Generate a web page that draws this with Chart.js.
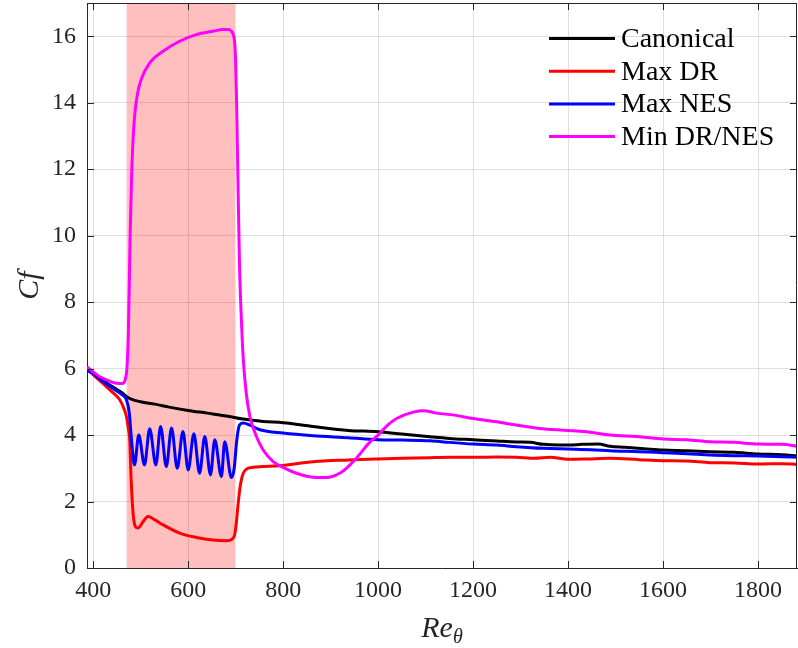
<!DOCTYPE html>
<html>
<head>
<meta charset="utf-8">
<script src="https://cdn.jsdelivr.net/npm/chart.js@4/dist/chart.umd.min.js"></script>
<style>
  html, body { margin: 0; padding: 0; background: #fff; }
  #wrap { width: 798px; height: 648px; }
</style>
</head>
<body>
<div id="wrap"><canvas id="chart" width="798" height="648"></canvas></div>
<script>
// Tick values
const xTicks = [400, 600, 800, 1000, 1200, 1400, 1600, 1800];
const yTicks = [0, 2, 4, 6, 8, 10, 12, 14, 16];

// Shaded control region (Re_theta range)
const shadeRange = [470, 700];

// Canonical
const canonicalX = [387, 400, 420, 440, 460, 470, 480, 500, 530, 560, 600, 640, 687, 716, 758, 800, 863, 937, 1000, 1050, 1109, 1150, 1200, 1250, 1291, 1320, 1348, 1380, 1400, 1430, 1464, 1488, 1520, 1560, 1600, 1650, 1699, 1750, 1800, 1850, 1882];
const canonicalCf = [6.02, 5.87, 5.66, 5.46, 5.28, 5.16, 5.08, 5.0, 4.93, 4.84, 4.74, 4.66, 4.56, 4.48, 4.41, 4.37, 4.26, 4.14, 4.1, 4.03, 3.95, 3.9, 3.86, 3.82, 3.79, 3.78, 3.72, 3.7, 3.7, 3.72, 3.73, 3.66, 3.63, 3.59, 3.55, 3.53, 3.5, 3.48, 3.43, 3.41, 3.37];

// Max DR
const maxDrX = [387, 400, 420, 440, 456, 466, 470, 474, 477, 480, 484, 489, 494, 505, 515, 530, 547, 582, 617, 652, 680, 694, 698, 701, 705, 709, 712, 716, 722, 737, 793, 863, 937, 1000, 1050, 1109, 1150, 1200, 1250, 1291, 1330, 1362, 1400, 1440, 1488, 1550, 1600, 1650, 1699, 1750, 1800, 1850, 1882];
const maxDrCf = [6.0, 5.82, 5.56, 5.3, 5.06, 4.75, 4.56, 4.2, 3.86, 2.65, 1.65, 1.24, 1.2, 1.39, 1.55, 1.45, 1.3, 1.05, 0.92, 0.84, 0.82, 0.89, 1.0, 1.3, 1.9, 2.4, 2.65, 2.85, 2.97, 3.03, 3.08, 3.2, 3.25, 3.28, 3.3, 3.32, 3.33, 3.33, 3.34, 3.33, 3.3, 3.33, 3.27, 3.28, 3.3, 3.26, 3.23, 3.22, 3.17, 3.16, 3.13, 3.14, 3.12];

// Max NES
const maxNesX = [387, 400, 420, 440, 460, 470, 476, 481, 487, 496, 508, 519, 532, 542, 554, 565, 577, 589, 600, 612, 624, 635, 647, 656, 670, 677, 691, 697, 702, 708, 716, 730, 751, 800, 863, 937, 1000, 1050, 1109, 1150, 1200, 1250, 1291, 1348, 1400, 1450, 1488, 1550, 1600, 1650, 1699, 1750, 1800, 1850, 1882];
const maxNesCf = [5.95, 5.85, 5.62, 5.42, 5.22, 5.06, 4.67, 3.8, 3.1, 4.0, 3.1, 4.19, 3.1, 4.26, 3.05, 4.21, 3.0, 4.11, 2.95, 4.04, 2.85, 3.96, 2.8, 3.86, 2.75, 3.8, 2.72, 3.0, 3.8, 4.3, 4.36, 4.3, 4.16, 4.06, 3.98, 3.92, 3.86, 3.85, 3.83, 3.78, 3.73, 3.7, 3.65, 3.6, 3.58, 3.56, 3.53, 3.5, 3.47, 3.44, 3.4, 3.38, 3.37, 3.35, 3.33];

// Min DR/NES
const minDrNesX = [387, 400, 413, 430, 442, 455, 463, 468, 471, 474, 476, 478, 481, 484, 488, 493, 501, 519, 547, 582, 617, 652, 673, 685, 691, 695, 698, 700, 702, 705, 708, 712, 716, 722, 730, 744, 758, 779, 800, 828, 863, 891, 919, 937, 960, 980, 1000, 1020, 1039, 1074, 1095, 1123, 1160, 1200, 1250, 1291, 1340, 1400, 1450, 1488, 1550, 1600, 1650, 1699, 1750, 1800, 1850, 1882];
const minDrNesCf = [6.05, 5.9, 5.76, 5.65, 5.58, 5.55, 5.56, 5.7, 6.0, 7.0, 8.5, 10.1, 11.8, 12.9, 13.7, 14.25, 14.7, 15.2, 15.55, 15.85, 16.05, 16.15, 16.2, 16.2, 16.15, 16.05, 15.8, 15.2, 14.0, 11.5, 9.2, 7.5, 6.3, 5.3, 4.56, 3.95, 3.55, 3.2, 3.03, 2.85, 2.73, 2.72, 2.85, 3.05, 3.4, 3.75, 4.0, 4.3, 4.5, 4.69, 4.73, 4.66, 4.6, 4.5, 4.4, 4.3, 4.2, 4.14, 4.08, 4.0, 3.95, 3.88, 3.86, 3.8, 3.78, 3.73, 3.72, 3.67];

const FONT = '"Liberation Serif", "Times New Roman", serif';
const AXIS = '#262626';

function pts(xs, ys) {
    return xs.map((x, i) => ({ x: x, y: ys[i] }));
}

function series(label, color, xs, ys, order) {
    return {
        label: label,
        data: pts(xs, ys),
        borderColor: color,
        backgroundColor: color,
        borderWidth: 3,
        pointRadius: 0,
        fill: false,
        cubicInterpolationMode: 'monotone',
        order: order
    };
}

// MATLAB style box, inward ticks, legend and x label
const matlabLook = {
    id: 'matlabLook',
    afterDatasetsDraw(chart) {
        const { ctx, chartArea: a, scales } = chart;
        ctx.save();
        ctx.strokeStyle = AXIS;
        ctx.lineWidth = 1;
        ctx.beginPath();
        ctx.moveTo(a.left, a.top + 0.5);
        ctx.lineTo(a.right, a.top + 0.5);
        ctx.moveTo(a.right - 0.5, a.top);
        ctx.lineTo(a.right - 0.5, a.bottom);
        const tl = 7;
        scales.x.ticks.forEach(t => {
            const px = Math.round(scales.x.getPixelForValue(t.value)) + 0.5;
            ctx.moveTo(px, a.bottom); ctx.lineTo(px, a.bottom - tl);
            ctx.moveTo(px, a.top); ctx.lineTo(px, a.top + tl);
        });
        scales.y.ticks.forEach(t => {
            const py = Math.round(scales.y.getPixelForValue(t.value)) + 0.5;
            ctx.moveTo(a.left, py); ctx.lineTo(a.left + tl, py);
            ctx.moveTo(a.right, py); ctx.lineTo(a.right - tl, py);
        });
        ctx.stroke();
        ctx.restore();
    },
    afterDraw(chart) {
        const { ctx, chartArea: a } = chart;
        ctx.save();
        // legend
        const sets = chart.data.datasets.filter(d => d.label);
        ctx.font = '28px ' + FONT;
        ctx.textBaseline = 'middle';
        ctx.textAlign = 'left';
        sets.forEach((d, i) => {
            const y = a.top + 35.5 + i * 32.7;
            ctx.strokeStyle = d.borderColor;
            ctx.lineWidth = 3;
            ctx.beginPath();
            ctx.moveTo(a.right - 248, y);
            ctx.lineTo(a.right - 182, y);
            ctx.stroke();
            ctx.fillStyle = '#000';
            ctx.fillText(d.label, a.right - 176, y + 1);
        });
        // x label: Re_theta
        const cx = (a.left + a.right) / 2;
        ctx.fillStyle = AXIS;
        ctx.textBaseline = 'alphabetic';
        ctx.font = 'italic 30px ' + FONT;
        const wRe = ctx.measureText('Re').width;
        ctx.font = 'italic 20px ' + FONT;
        const wTh = ctx.measureText('\u03B8').width;
        const x0 = cx - (wRe + wTh) / 2;
        ctx.font = 'italic 30px ' + FONT;
        ctx.fillText('Re', x0, 637);
        ctx.font = 'italic 20px ' + FONT;
        ctx.fillText('\u03B8', x0 + wRe, 643);
        ctx.restore();
    }
};

new Chart(document.getElementById('chart'), {
    type: 'line',
    data: {
        datasets: [
            series('Canonical', '#000000', canonicalX, canonicalCf, 4),
            series('Max DR', '#ff0000', maxDrX, maxDrCf, 3),
            series('Max NES', '#0000ff', maxNesX, maxNesCf, 2),
            series('Min DR/NES', '#ff00ff', minDrNesX, minDrNesCf, 1),
            {
                label: '',
                data: pts(shadeRange, [17, 17]),
                borderWidth: 0,
                pointRadius: 0,
                backgroundColor: 'rgba(255, 0, 0, 0.25)',
                fill: 'origin',
                tension: 0,
                order: 5
            }
        ]
    },
    options: {
        responsive: false,
        animation: false,
        devicePixelRatio: 1,
        layout: { padding: { top: 3, right: 1, left: 0, bottom: 0 } },
        plugins: {
            legend: { display: false },
            tooltip: { enabled: false }
        },
        scales: {
            x: {
                type: 'linear',
                min: 387,
                max: 1882,
                afterBuildTicks: s => { s.ticks = xTicks.map(v => ({ value: v })); },
                afterFit: s => { s.height = 80; s.paddingLeft = 0; s.paddingRight = 0; },
                grid: { color: 'rgba(38,38,38,0.15)', drawTicks: false },
                border: { color: AXIS, width: 1 },
                ticks: { color: AXIS, padding: 8, font: { family: FONT, size: 24 }, maxRotation: 0, callback: v => String(v) },
                title: { display: false }
            },
            y: {
                min: 0,
                max: 17,
                afterBuildTicks: s => { s.ticks = yTicks.map(v => ({ value: v })); },
                afterFit: s => { s.width = 87; s.paddingTop = 0; s.paddingBottom = 0; },
                grid: { color: 'rgba(38,38,38,0.15)', drawTicks: false },
                border: { color: AXIS, width: 1 },
                ticks: { color: AXIS, padding: 11, font: { family: FONT, size: 24 }, callback: v => String(v) },
                title: {
                    display: true,
                    text: 'Cf',
                    color: AXIS,
                    padding: { top: 12, bottom: 0 },
                    font: { family: FONT, size: 30, style: 'italic' }
                }
            }
        }
    },
    plugins: [matlabLook]
});
</script>
</body>
</html>
